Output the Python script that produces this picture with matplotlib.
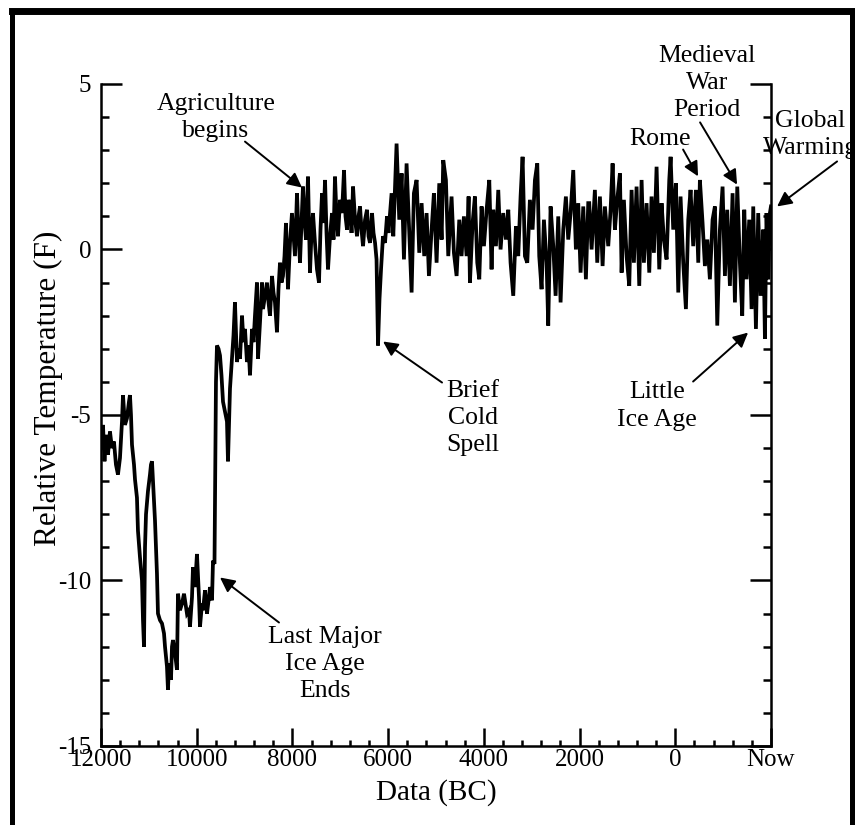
import matplotlib
matplotlib.use('Agg')
import matplotlib.pyplot as plt
from matplotlib.lines import Line2D
from matplotlib.ticker import MultipleLocator, FixedLocator

plt.rcParams['font.family'] = ['Liberation Serif', 'DejaVu Serif']
plt.rcParams['axes.unicode_minus'] = False

# years BC (negative = AD)
years = [11985, 11958, 11927, 11896, 11854, 11812, 11771, 11729, 11687, 11645,
         11603, 11561, 11540, 11499, 11457, 11415, 11394, 11373, 11352, 11310,
         11289, 11248, 11227, 11185, 11143, 11122, 11101, 11080, 11059, 11018,
         10976, 10955, 10934, 10913, 10871, 10830, 10809, 10767, 10725, 10683,
         10662, 10621, 10600, 10579, 10537, 10516, 10495, 10453, 10412, 10391,
         10349, 10307, 10265, 10244, 10203, 10161, 10140, 10098, 10077, 10036,
         9994, 9952, 9931, 9889, 9868, 9826, 9785, 9743, 9722, 9680,
         9659, 9628, 9597, 9576,
         9544, 9513, 9482, 9450, 9409, 9367, 9346, 9304, 9263, 9231,
         9200, 9158, 9127, 9095, 9053, 9022, 8991, 8949, 8918, 8886,
         8844, 8813, 8782, 8740, 8719, 8677, 8635, 8614, 8573, 8531,
         8499, 8468, 8426, 8395, 8364, 8322, 8291, 8259, 8228, 8197,
         8165, 8134, 8092, 8050, 8009, 7946, 7904, 7873, 7841, 7810,
         7779, 7747, 7716, 7674, 7632, 7601, 7570, 7528, 7486, 7444,
         7413, 7381, 7350, 7318, 7287, 7256, 7214, 7172, 7141, 7110,
         7078, 7047, 7005, 6963, 6921, 6890, 6859, 6827, 6796, 6764,
         6733, 6691, 6649, 6618, 6587, 6556, 6524, 6482, 6441, 6409,
         6378, 6336, 6305, 6273, 6242, 6232, 6211, 6180, 6148, 6107,
         6065, 6023, 5992,
         5927, 5892, 5823, 5767, 5718, 5669, 5614, 5558, 5509, 5461,
         5405, 5349, 5300, 5245, 5196, 5147, 5091, 5043, 4987, 4931,
         4882, 4848, 4792, 4743, 4674, 4625, 4569, 4513, 4465, 4416,
         4360, 4318, 4290, 4235, 4186, 4137, 4095, 4047, 3998, 3942,
         3886, 3838, 3803, 3747, 3698, 3650, 3594, 3538, 3489, 3441,
         3385, 3329, 3281, 3232, 3190, 3141, 3092, 3037, 2981, 2932,
         2883, 2842, 2793, 2744, 2688, 2654, 2605, 2549, 2500, 2445,
         2396, 2340, 2285, 2236, 2187, 2131, 2076, 2027, 1978, 1922,
         1867, 1818,
         1797, 1748, 1679, 1630, 1574, 1518, 1470, 1400, 1351, 1309,
         1261, 1212, 1156, 1121, 1073, 1017, 961, 912, 864, 808,
         752, 703, 655, 599, 543, 495, 446, 390, 334, 286,
         237, 181, 125, 97, 42, -14, -63, -111, -167, -223,
         -272, -320, -376, -432, -481, -515, -571, -620, -669, -724,
         -780, -829, -878, -933, -989, -1038, -1086, -1142, -1198, -1247,
         -1296, -1351, -1400, -1442, -1491, -1546, -1595, -1630, -1686, -1734,
         -1783, -1839, -1874, -1908, -1943, -1978, -2000]

temps = [-5.9, -5.3, -6.4, -5.6, -6.2, -5.5, -6.0, -5.8, -6.5, -6.8,
         -6.3, -5.2, -4.4, -5.3, -5.1, -4.6, -4.4, -5.0, -5.9, -6.5,
         -6.95, -7.5, -8.5, -9.3, -10.0, -11.2, -12.0, -9.0, -8.0, -7.3,
         -6.8, -6.5, -6.4, -7.0, -8.2, -9.8, -11.0, -11.2, -11.3, -11.6,
         -12.0, -12.6, -13.3, -12.5, -13.0, -12.0, -11.8, -12.2, -12.7, -10.4,
         -10.9, -10.7, -10.4, -10.6, -11.0, -10.9, -11.4, -10.5, -9.6, -10.2,
         -9.2, -10.5, -11.4, -10.7, -10.9, -10.3, -11.0, -10.5, -10.2, -10.6,
         -9.4, -9.5, -4.0, -2.9,
         -3.0, -3.2, -3.8, -4.6, -4.9, -5.2, -6.4, -4.2, -3.3, -2.6,
         -1.6, -3.4, -3.0, -3.3, -2.0, -2.8, -2.4, -3.4, -2.9, -3.8,
         -2.4, -2.8, -2.0, -1.0, -3.3, -2.2, -1.0, -1.8, -1.4, -1.0,
         -1.6, -2.0, -0.8, -1.3, -1.6, -2.5, -1.2, -0.4, -1.0, -0.8,
         -0.2, 0.8, -1.2, 0.2, 1.1, -0.2, 1.7, 0.5, -0.4, 0.8,
         1.9, 0.9, 0.3, 2.2, -0.7, 0.5, 1.1, 0.2, -0.6, -1.0,
         0.6, 1.7, 0.8, 2.1, 0.5, -0.6, 0.4, 1.1, 0.3, 2.2,
         1.0, 0.4, 1.5, 1.1, 2.4, 1.0, 0.6, 1.5, 1.3, 0.5,
         1.9, 0.9, 0.4, 1.0, 1.3, 0.6, 0.1, 0.9, 1.2, 0.4,
         0.2, 1.1, 0.5, 0.2, -0.3, -1.2, -2.9, -1.5, -0.6, 0.4,
         0.2, 1.0, 0.5,
         1.7, 0.4, 3.2, 0.9, 2.3, -0.3, 2.6, 0.5, -1.3, 1.7,
         2.1, -0.1, 1.4, -0.2, 1.1, -0.8, 0.6, 1.7, -0.4, 2.0,
         0.3, 2.7, 2.1, -0.2, 1.6, -0.1, -0.8, 0.9, -0.2, 1.0,
         -0.2, 1.6, -1.0, 0.8, 1.6, -0.4, -0.9, 1.3, 0.1, 1.2,
         2.1, -0.6, 1.2, 0.1, 1.8, 0.0, 1.1, 0.3, 1.2, -0.4,
         -1.4, 0.7, -0.2, 1.6, 2.8, -0.2, -0.4, 1.5, 0.6, 2.1,
         2.6, -0.2, -1.2, 0.9, -0.4, -2.3, 1.3, 0.1, -1.4, 1.0,
         -1.6, 0.6, 1.6, 0.3, 1.1, 2.4, 0.0, 1.4, -0.7, 1.3,
         -0.9, 1.4,
         1.4, 0.0, 1.8, -0.4, 1.6, -0.5, 1.3, 0.1, 1.2, 2.6,
         0.6, 1.5, 2.3, -0.7, 1.5, -0.2, -1.1, 1.8, -0.4, 1.9,
         -1.1, 2.1, -0.4, 1.4, -0.7, 1.6, -0.1, 2.5, -0.6, 1.4,
         0.3, -0.3, 2.1, 2.8, 0.6, 2.0, -1.3, 1.6, -0.4, -1.8,
         0.9, 1.8, 0.1, 1.8, -0.4, 2.1, 0.8, -0.5, 0.3, -0.9,
         0.9, 1.3, -2.3, 0.6, 1.9, -0.8, 1.2, -1.1, 1.7, -1.6,
         1.9, -0.4, -2.0, 1.2, -0.9, 0.9, -1.8, 1.3, -2.4, 1.1,
         -1.4, 0.6, -2.7, 1.1, -0.9, 1.1, 1.3]

xticks = [12000, 10000, 8000, 6000, 4000, 2000, 0, -2000]
xticklabels = ['12000', '10000', '8000', '6000', '4000', '2000', '0', 'Now']
yticks = [-15, -10, -5, 0, 5]

# annotation text, anchor (centre, last baseline), arrow tail, arrow tip
notes = [
    ('Agriculture\nbegins', (9597, 3.41), (8991, 3.26), (7799, 1.87)),
    ('Brief\nCold\nSpell', (4225, -6.10), (4873, -4.02), (6106, -2.78)),
    ('Last Major\nIce Age\nEnds', (7318, -13.53), (8280, -11.27), (9513, -9.91)),
    ('Little\nIce Age', (379, -5.32), (-373, -3.99), (-1522, -2.51)),
    ('Medieval\nWar\nPeriod', (-665, 4.02), (-519, 3.84), (-1292, 1.96)),
    ('Rome', (317, 3.17), (-164, 3.02), (-477, 2.21)),
    ('Global\nWarming', (-2818, 2.87), (-3382, 2.66), (-2128, 1.30)),
]

fig = plt.figure(figsize=(8.55, 8.25), dpi=100)
ax = fig.add_axes([0.1181, 0.0958, 0.7836, 0.8024])

ax.plot(years, temps, color='black', lw=2.7, solid_joinstyle='miter')

ax.set_xlim(12000, -2000)
ax.set_ylim(-15, 5)
ax.xaxis.set_major_locator(FixedLocator(xticks))
ax.set_xticklabels(xticklabels)
ax.xaxis.set_minor_locator(MultipleLocator(400))
ax.yaxis.set_major_locator(FixedLocator(yticks))
ax.yaxis.set_minor_locator(MultipleLocator(1))

ax.spines['top'].set_visible(False)
for s in ['left', 'right', 'bottom']:
    ax.spines[s].set_linewidth(1.8)

ax.tick_params(axis='both', which='both', direction='in', width=1.8, labelsize=18)
ax.tick_params(axis='y', which='both', left=True, right=True)
ax.tick_params(axis='y', which='major', length=15, pad=7)
ax.tick_params(axis='y', which='minor', length=6)
ax.tick_params(axis='x', which='major', length=13, pad=2, top=False)
ax.tick_params(axis='x', which='minor', length=4, top=False)

ax.set_xlabel('Data (BC)', fontsize=21, labelpad=6)
ax.set_ylabel('Relative Temperature (F)', fontsize=22.5)
ax.yaxis.set_label_coords(-0.057, 0.541)

for label, txt_xy, tail, tip in notes:
    ax.text(txt_xy[0], txt_xy[1], label, fontsize=18.5, ha='center', va='baseline',
            linespacing=1.3, clip_on=False, zorder=5)
    ax.annotate('', xy=tip, xytext=tail, annotation_clip=False,
                arrowprops=dict(arrowstyle='-|>', color='black', lw=1.4,
                                mutation_scale=22, shrinkA=0, shrinkB=0))

# black frame round the picture (no bottom edge)
fig.add_artist(Line2D([0.0146, 0.9965], [0.9867, 0.9867], color='black', lw=5, zorder=10))
fig.add_artist(Line2D([0.0146, 0.0146], [0, 0.9867], color='black', lw=3.6, zorder=10))
fig.add_artist(Line2D([0.9965, 0.9965], [0, 0.9867], color='black', lw=3.6, zorder=10))

fig.savefig('out.png', dpi=100)
